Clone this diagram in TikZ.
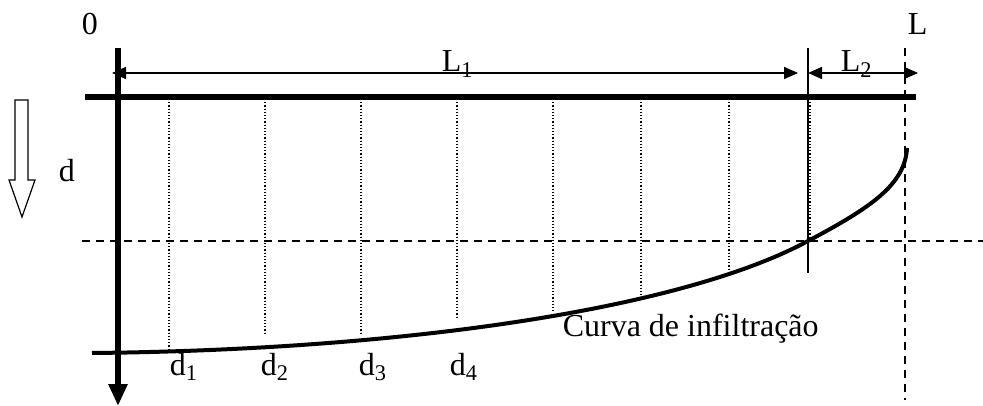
\documentclass[tikz,border=0pt]{standalone}
\usepackage{fontspec}
\setmainfont{Liberation Serif}
\usetikzlibrary{arrows.meta}

\begin{document}
\begin{tikzpicture}[x=0.5pt,y=-0.5pt,line width=0.75pt]
\tikzset{
  lbl/.style={inner sep=0pt,font=\fontsize{16}{18}\selectfont},
  dimline/.style={line width=0.75pt,{Triangle[length=7pt,width=6pt]}-{Triangle[length=7pt,width=6pt]}},
  gridline/.style={line width=0.6pt,dash pattern=on 0.6pt off 1pt},
  guideline/.style={line width=1pt,dash pattern=on 4pt off 3pt},
  heavy/.style={line width=2.75pt},
}
\useasboundingbox (0,0) rectangle (983,406);
% axes and surface
\coordinate (axtop) at (118,48);
\coordinate (axbot) at (118,406);
\coordinate (surfl) at (85,97);
\coordinate (surfr) at (916,97);
\draw[heavy,-{Triangle[length=11pt,width=9pt]}] (axtop) -- (axbot);
\draw[heavy] (surfl) -- (surfr);
% lengths
\coordinate (lonel) at (112,73);
\coordinate (loner) at (798,73);
\coordinate (ltwol) at (808,73);
\coordinate (ltwor) at (918,73);
\draw[dimline] (lonel) -- (loner);
\draw[dimline] (ltwol) -- (ltwor);
\coordinate (cuttop) at (808,48);
\coordinate (cutbot) at (808,273);
\draw[line width=0.75pt] (cuttop) -- (cutbot);
\coordinate (endtop) at (905,48);
\coordinate (endbot) at (905,400);
\draw[guideline] (endtop) -- (endbot);
\coordinate (depl) at (82,241);
\coordinate (depr) at (983,241);
\draw[guideline] (depl) -- (depr);
% stations
\foreach \x/\y in {169/350,265/334,361/334,457/318,553/312,641/298,729/272,810/241}
  \draw[gridline] (\x,99) -- (\x,\y);
% infiltration curve
\coordinate (cstart) at (92,353);
\coordinate (cmid) at (808,241);
\coordinate (cend) at (907,148);
\draw[line width=2pt] (cstart) .. controls (400,350) and (680,310) .. (cmid)
  .. controls (870,208) and (905,185) .. (cend);
% depth arrow
\draw[line width=0.6pt] (15,100) -- (15,180) -- (9,180) -- (22,217) -- (35,180) -- (28,180) -- (28,100) -- cycle;
% labels
\node[lbl,anchor=base west] (lblzero) at (81,35) {0};
\node[lbl,anchor=base west] (lblL) at (907,35) {L};
\node[lbl,anchor=base west] (lblLone) at (441,72) {L\textsubscript{1}};
\node[lbl,anchor=base west] (lblLtwo) at (840,72) {L\textsubscript{2}};
\node[lbl,anchor=base west] (lbld) at (58,182) {d};
\node[lbl,anchor=base west] (lbldone) at (169,375) {d\textsubscript{1}};
\node[lbl,anchor=base west] (lbldtwo) at (260,375) {d\textsubscript{2}};
\node[lbl,anchor=base west] (lbldthree) at (358,375) {d\textsubscript{3}};
\node[lbl,anchor=base west] (lbldfour) at (449,375) {d\textsubscript{4}};
\node[lbl,anchor=base west] (lblcurve) at (562,336) {Curva de infiltração};
\end{tikzpicture}
\end{document}
